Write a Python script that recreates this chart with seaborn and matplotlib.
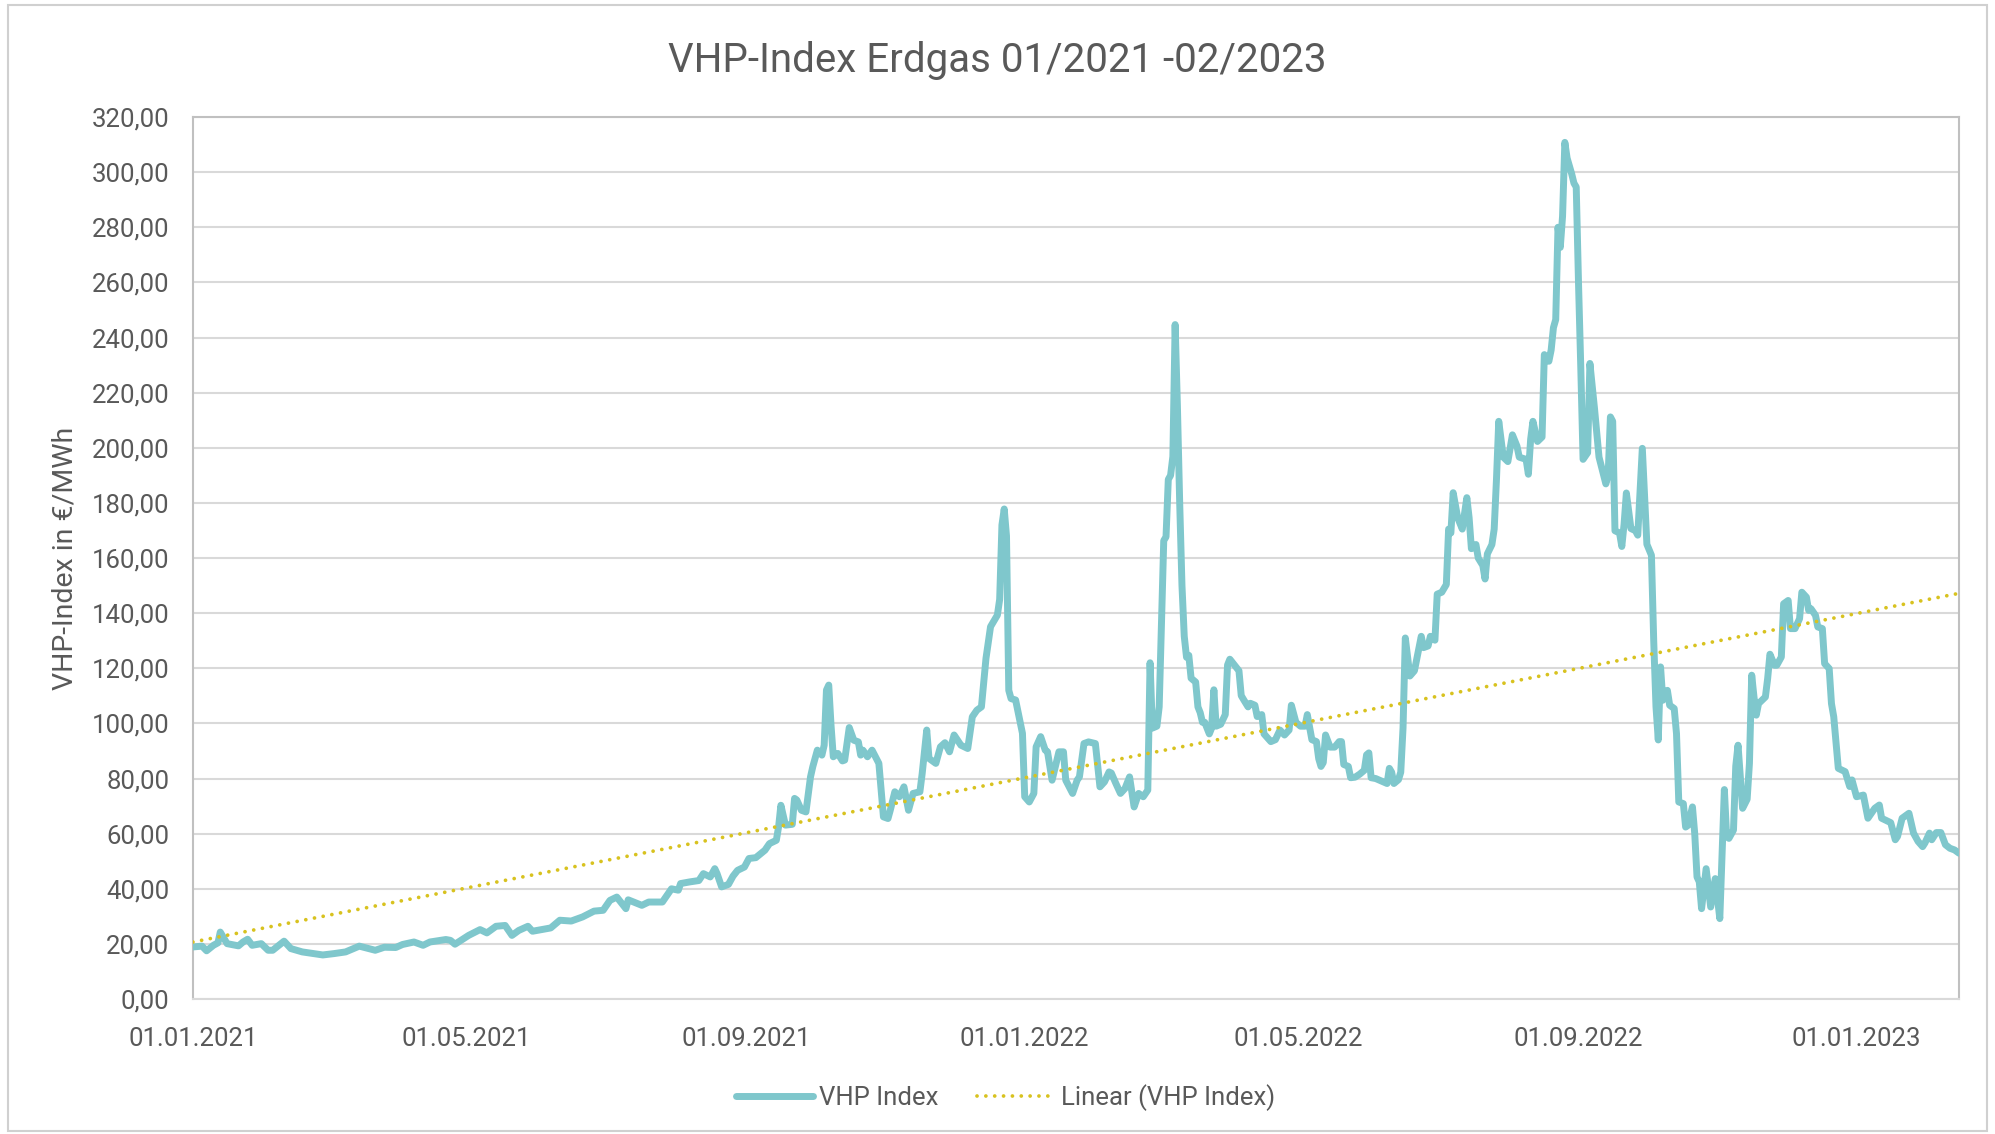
import numpy as np
import pandas as pd
import matplotlib
matplotlib.use("Agg")
import matplotlib.pyplot as plt
import matplotlib.dates as mdates
from matplotlib.ticker import FuncFormatter, FixedLocator
from matplotlib.patches import Rectangle
import seaborn as sns

# ---------------- data ----------------
start_date = "2021-01-01"

days_2021a = [0, 4, 6, 9, 11, 12, 15, 20, 22, 24,
              26, 30, 33, 35, 40, 43, 48, 57, 62, 67,
              73, 80, 84, 89, 92, 97, 101, 104, 111, 113,
              115, 121, 126, 129, 133, 137, 140, 143, 147, 149,
              157, 161, 166, 171, 176, 180, 183, 186, 190, 191,
              197, 200, 206]
vals_2021a = [18.9, 19.2, 17.5, 19.5, 20.4, 24.3, 20.1, 19.3, 20.7, 21.7,
              19.5, 20.1, 17.7, 17.7, 21.0, 18.3, 17.1, 16.0, 16.5, 17.1,
              19.2, 17.7, 18.8, 18.7, 19.8, 20.7, 19.5, 20.7, 21.6, 21.3,
              19.9, 23.1, 25.2, 24.0, 26.4, 26.7, 23.1, 24.9, 26.4, 24.6,
              25.8, 28.6, 28.3, 29.8, 31.9, 32.2, 35.8, 37.0, 32.8, 36.0,
              34.0, 35.2, 35.2]

days_2021b = [210, 213, 214, 218, 222, 224, 227, 229, 230, 232,
              235, 237, 239, 242, 244, 247, 251, 253, 256, 257,
              258, 260, 263, 264, 265, 267, 269, 271, 272, 274,
              276, 277, 278, 279, 280, 281, 283, 285, 286, 288,
              290, 292, 293, 294, 296, 298, 301, 303, 305, 306,
              308, 310, 312, 314, 316, 319, 320, 322, 323, 326,
              328, 330, 332, 334, 337, 340, 342, 344, 346, 348,
              350, 353, 354, 355, 356, 357, 358, 359, 361, 364,
              365, 367, 369, 370, 372, 374, 375, 377, 380, 382,
              383, 386, 388, 389, 391, 393, 396, 398, 400, 402,
              403, 405, 407, 409, 411, 413, 415, 417, 419, 420]
vals_2021b = [40.0, 39.5, 41.9, 42.5, 43.0, 45.5, 44.3, 47.3, 45.5, 40.7,
              41.6, 44.6, 46.7, 47.9, 51.0, 51.3, 54.0, 56.4, 57.6, 62.5,
              70.3, 63.1, 63.4, 72.8, 72.2, 68.5, 67.9, 80.6, 84.3, 90.3,
              88.5, 92.1, 112.1, 113.9, 99.4, 87.9, 89.1, 86.4, 86.7, 98.5,
              93.9, 93.3, 88.5, 90.3, 87.9, 90.3, 85.5, 66.1, 65.5, 68.5,
              75.2, 73.4, 77.0, 68.5, 74.6, 75.2, 81.8, 97.6, 87.3, 85.5,
              91.5, 93.0, 89.7, 95.8, 92.1, 90.9, 102.4, 104.8, 106.0, 123.6,
              135.1, 139.3, 145.0, 172.0, 177.8, 168.0, 112.0, 109.0, 108.5, 96.4,
              73.4, 71.5, 74.6, 91.5, 95.2, 90.3, 89.7, 79.4, 89.7, 89.7,
              79.4, 74.6, 79.4, 80.6, 92.7, 93.3, 92.7, 77.0, 78.8, 82.4,
              82.0, 78.2, 74.6, 76.4, 80.6, 69.7, 74.6, 73.4, 75.8, 122.0]

days_2022a = [421, 423, 424, 426, 427, 428, 429, 430, 431, 432,
              433, 434, 435, 436, 437, 438, 440, 441, 442, 443,
              444, 446, 447, 448, 449, 451, 453, 454, 455, 457,
              459, 460, 461, 463, 464, 466, 467, 469, 470, 473,
              475, 477, 479, 481, 482, 484, 486, 488, 489, 491,
              493, 494, 495, 496, 497, 499, 501, 503, 504, 505,
              507, 508, 510, 512, 514, 515, 516, 517, 519, 522,
              524, 525, 526, 527, 529, 530, 531]
vals_2022a = [98.3, 99.0, 106.0, 166.3, 167.7, 188.5, 190.0, 196.8, 244.7, 215.0,
              180.0, 150.0, 131.6, 124.0, 124.7, 116.4, 115.0, 106.0, 103.9, 100.4,
              100.4, 96.2, 98.3, 112.2, 99.0, 99.7, 103.2, 121.2, 123.3, 121.2,
              119.1, 110.1, 108.7, 106.0, 107.3, 106.6, 102.5, 103.2, 96.2, 93.4,
              94.1, 97.6, 95.8, 97.6, 106.6, 100.4, 99.0, 99.0, 103.2, 94.1,
              93.4, 87.2, 84.4, 85.8, 95.8, 91.4, 91.4, 93.4, 93.4, 85.1,
              84.4, 80.3, 80.5, 81.6, 83.0, 88.6, 89.3, 80.3, 80.0, 78.9,
              78.2, 83.7, 82.3, 78.2, 79.6, 82.3, 98.3]

days_2022b = [532, 534, 536, 537, 539, 540, 542, 543, 545, 546,
              548, 550, 551, 552, 553, 555, 557, 559, 560, 561,
              563, 564, 566, 567, 568, 570, 571, 572, 573, 575,
              577, 579, 581, 582, 585, 586, 587, 588, 590, 592,
              593, 595, 596, 597, 598, 599, 600, 601, 602, 603,
              605, 606, 607, 608, 609, 610, 612, 613, 615, 617,
              618, 620, 621, 622, 623, 624, 626, 627, 628, 629,
              631, 633, 634, 636, 638, 640]
vals_2022b = [131.0, 117.2, 119.1, 123.3, 131.6, 127.5, 128.1, 131.6, 130.2, 146.9,
              147.6, 150.4, 170.5, 169.1, 183.7, 174.6, 170.5, 181.9, 174.6, 163.4,
              164.9, 160.0, 157.3, 152.4, 161.5, 164.9, 170.5, 188.5, 209.6, 196.6,
              195.0, 204.7, 200.6, 196.6, 195.8, 190.4, 203.1, 209.6, 202.3, 203.9,
              233.8, 231.4, 235.5, 243.6, 246.5, 280.0, 272.7, 284.0, 310.8, 305.1,
              299.4, 296.0, 294.6, 259.8, 229.0, 195.8, 198.2, 230.6, 214.4, 196.6,
              193.4, 186.9, 190.1, 211.2, 209.6, 169.9, 169.1, 164.2, 172.3, 183.6,
              170.7, 169.9, 168.3, 199.8, 165.0, 161.0]

days_2022c = [641, 642, 643, 644, 645, 647, 648, 650, 651, 652,
              654, 655, 656, 658, 659, 660, 661, 662, 664, 666,
              668, 670, 672, 673, 674, 676, 677, 678, 679, 680,
              682, 683, 684, 685, 686, 687, 690, 691, 692, 694,
              695, 697, 698, 700, 701, 703, 705, 706, 708, 709,
              710, 712, 713, 715, 716, 718, 719, 720, 722, 725,
              727, 728, 730, 733, 735, 736, 738, 740, 741, 744,
              745, 747, 748, 750, 753, 755, 757, 759, 760, 762,
              763, 765, 767, 769, 771, 773, 775]
vals_2022c = [130.0, 106.0, 94.0, 120.5, 108.4, 112.0, 106.6, 105.4, 96.3, 71.5,
              70.9, 62.4, 63.0, 69.7, 60.0, 44.3, 42.5, 32.8, 47.3, 33.4,
              43.7, 29.2, 76.0, 59.0, 58.3, 61.3, 84.5, 92.1, 80.7, 69.2,
              72.5, 85.5, 117.5, 109.6, 103.0, 107.2, 109.6, 116.3, 125.1, 121.1,
              121.1, 124.1, 143.4, 144.6, 134.4, 134.4, 138.0, 147.6, 145.8, 141.0,
              141.6, 139.2, 135.0, 134.4, 121.7, 119.9, 107.2, 102.4, 83.7, 82.5,
              77.1, 79.5, 73.4, 74.0, 65.6, 66.8, 69.2, 70.4, 65.6, 64.4,
              64.0, 57.8, 59.0, 65.6, 67.4, 60.2, 57.2, 55.3, 56.6, 60.2,
              57.8, 60.4, 60.4, 56.0, 54.7, 54.1, 52.9]

# linear trend line (Excel trendline), endpoints
trend_days = [0, 775]
trend_values = [20.7, 147.2]

x_tick_dates = ["2021-01-01", "2021-05-01", "2021-09-01", "2022-01-01",
                "2022-05-01", "2022-09-01", "2023-01-01"]
y_ticks = [0, 20, 40, 60, 80, 100, 120, 140, 160, 180, 200, 220, 240, 260, 280, 300, 320]
x_end_day = 775

title_text = "VHP-Index Erdgas 01/2021 -02/2023"
y_label_text = "VHP-Index in €/MWh"
series_label = "VHP Index"
trend_label = "Linear (VHP Index)"

# ---------------- build frames ----------------
all_days = days_2021a + days_2021b + days_2022a + days_2022b + days_2022c
all_vals = vals_2021a + vals_2021b + vals_2022a + vals_2022b + vals_2022c
assert len(all_days) == len(all_vals)
t0 = pd.Timestamp(start_date)
df = pd.DataFrame({"date": t0 + pd.to_timedelta(all_days, unit="D"), "value": all_vals})
df_trend = pd.DataFrame({"date": t0 + pd.to_timedelta(trend_days, unit="D"), "value": trend_values})

# ---------------- style ----------------
sns.set_style("white")
plt.rcParams["font.family"] = ["Roboto", "DejaVu Sans"]
text_color = "#595959"
grid_color = "#d9d9d9"
line_color = "#7fc7cc"
trend_color = "#d8c21f"

fig = plt.figure(figsize=(19.95, 11.34), dpi=100)
ax = fig.add_axes([0.0967, 0.1190, 0.9820 - 0.0967, 0.8968 - 0.1190])

sns.lineplot(data=df, x="date", y="value", ax=ax, color=line_color, linewidth=5.0,
             solid_joinstyle="round", solid_capstyle="round", label=series_label,
             legend=False, zorder=3)
sns.lineplot(data=df_trend, x="date", y="value", ax=ax, color=trend_color, linewidth=2.7,
             linestyle=(0, (0.01, 2.35)), dash_capstyle="round", label=trend_label,
             legend=False, zorder=4)

ax.set_xlim(t0, t0 + pd.Timedelta(days=x_end_day))
ax.set_ylim(0, 320)

ax.yaxis.set_major_locator(FixedLocator(y_ticks))
ax.yaxis.set_major_formatter(FuncFormatter(lambda v, p: f"{v:.2f}".replace(".", ",")))
ax.xaxis.set_major_locator(FixedLocator([mdates.date2num(pd.Timestamp(d)) for d in x_tick_dates]))
ax.xaxis.set_major_formatter(mdates.DateFormatter("%d.%m.%Y"))

ax.grid(axis="y", color=grid_color, linewidth=1.5, zorder=0)
ax.grid(axis="x", visible=False)
ax.set_axisbelow(True)

ax.tick_params(axis="y", length=0, pad=17, labelsize=18.5, labelcolor=text_color)
ax.tick_params(axis="x", length=8, width=1.5, color=grid_color, pad=12,
               labelsize=18.5, labelcolor=text_color)

for side in ["top", "right", "left"]:
    ax.spines[side].set_visible(True)
    ax.spines[side].set_color("#c0c0c0")
    ax.spines[side].set_linewidth(1.5)
ax.spines["bottom"].set_color(grid_color)
ax.spines["bottom"].set_linewidth(1.5)

ax.set_xlabel("")
ax.set_ylabel(y_label_text, fontsize=20.5, color=text_color)
ax.yaxis.set_label_coords(-0.0646, 0.5)

fig.text(0.5, 0.947, title_text, ha="center", va="center", fontsize=29, color=text_color)

handles = ax.get_lines()[:2]
fig.legend(handles, [series_label, trend_label], loc="center", bbox_to_anchor=(0.504, 0.032),
           ncol=2, frameon=False, fontsize=18.5, labelcolor=text_color,
           handlelength=3.0, handletextpad=0.25, columnspacing=1.5)

fig.add_artist(Rectangle((0.004, 0.003), 0.992, 0.993, transform=fig.transFigure,
                         fill=False, edgecolor="#d0d0d0", linewidth=1.5))

fig.savefig("out.png", dpi=100)
